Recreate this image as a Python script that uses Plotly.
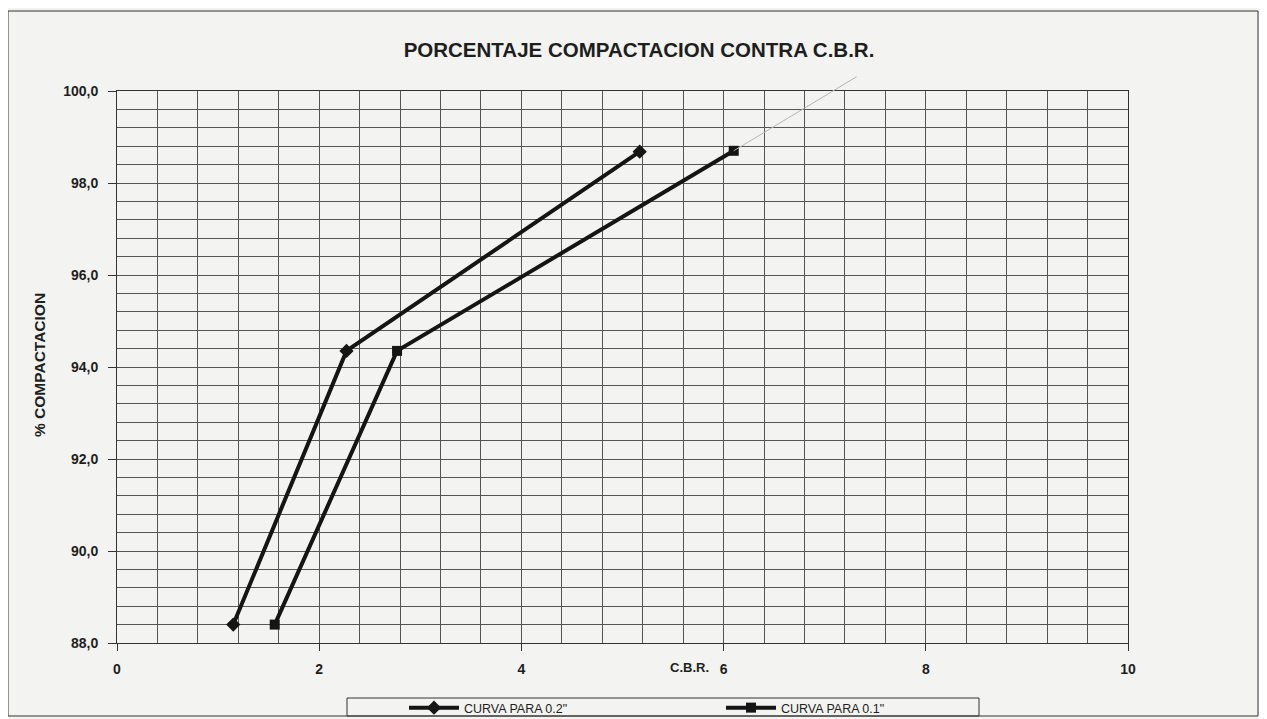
import plotly.graph_objects as go

# Data
cbr_02 = [1.15, 2.27, 5.17]
comp_02 = [88.4, 94.35, 98.68]
cbr_01 = [1.56, 2.77, 6.10]
comp_01 = [88.4, 94.35, 98.7]
name_02 = 'CURVA PARA 0.2"'
name_01 = 'CURVA PARA 0.1"'
# faint pencil stroke leaving the last point of the 0.1" curve
stroke_x = [6.10, 7.33]
stroke_y = [98.7, 100.33]

x_ticks = [0, 2, 4, 6, 8, 10]
y_ticks = [88, 90, 92, 94, 96, 98, 100]

BG = "#f3f3f1"
GRID = "#555555"
INK = "#1e1e1e"
FONT = "Liberation Sans, Arial, sans-serif"

# the page places the figure 8px in from the top-left corner of the window
OFF = 8
WIN_W, WIN_H = 1267, 719
W, H = WIN_W - OFF, WIN_H - OFF
# plot area in window pixels: x 117..1128, y 91..643
ML, MR, MT, MB = 117 - OFF, WIN_W - 1128, 91 - OFF, WIN_H - 643
PW, PH = W - ML - MR, H - MT - MB


def px(xpix):
    return (xpix - OFF - ML) / PW


def py(ypix):
    return (H - MB - (ypix - OFF)) / PH


fig = go.Figure()
fig.add_trace(go.Scatter(
    x=cbr_02, y=comp_02, name=name_02, mode="lines+markers",
    line=dict(color="#151515", width=4),
    marker=dict(symbol="diamond", size=11, color="#151515"),
    cliponaxis=False,
))
fig.add_trace(go.Scatter(
    x=cbr_01, y=comp_01, name=name_01, mode="lines+markers",
    line=dict(color="#151515", width=4),
    marker=dict(symbol="square", size=10, color="#151515"),
    cliponaxis=False,
))

fig.add_annotation(
    x=stroke_x[0], y=stroke_y[0], ax=stroke_x[1], ay=stroke_y[1],
    xref="x", yref="y", axref="x", ayref="y",
    text="", showarrow=True, arrowhead=0, arrowwidth=1, arrowcolor="#b5b5b5",
    standoff=0, startstandoff=0,
)

fig.update_layout(
    width=W, height=H,
    paper_bgcolor=BG, plot_bgcolor=BG,
    margin=dict(l=ML, r=MR, t=MT, b=MB, autoexpand=False),
    separators=",.",
    font=dict(family=FONT, color=INK),
    title=dict(text="PORCENTAJE COMPACTACION CONTRA C.B.R.",
               x=(639 - OFF) / W, xref="container", xanchor="center",
               y=1 - (50 - OFF) / H, yanchor="middle",
               font=dict(family=FONT, size=20.5, weight="bold", color=INK)),
    showlegend=True,
    legend=dict(orientation="h", x=px(404), xanchor="left", y=py(693), yanchor="top",
                bgcolor="rgba(0,0,0,0)", borderwidth=0,
                itemwidth=50, entrywidth=252, entrywidthmode="pixels",
                font=dict(family=FONT, size=12.5, color=INK)),
)

fig.update_xaxes(
    range=[0, 10], tickvals=x_ticks, tickformat="d",
    showgrid=True, gridcolor=GRID, gridwidth=1,
    minor=dict(dtick=0.4, tick0=0, showgrid=True, gridcolor=GRID, gridwidth=1),
    showline=True, linecolor="#333333", linewidth=1, mirror=True,
    ticks="outside", ticklen=7, tickcolor="#333333",
    tickfont=dict(family=FONT, size=14, weight="bold", color=INK),
    ticklabelstandoff=6,
    zeroline=False,
)
fig.update_yaxes(
    range=[88, 100], tickvals=y_ticks, tickformat=".1f",
    showgrid=True, gridcolor=GRID, gridwidth=1,
    minor=dict(dtick=0.4, tick0=88, showgrid=True, gridcolor=GRID, gridwidth=1),
    showline=True, linecolor="#333333", linewidth=1, mirror=True,
    ticks="outside", ticklen=8, tickcolor="#333333",
    tickfont=dict(family=FONT, size=14, weight="bold", color=INK),
    ticklabelstandoff=7,
    zeroline=False,
)

# axis titles
fig.add_annotation(text="C.B.R.", x=px(711), xref="paper", y=py(667), yref="paper",
                   xanchor="right", yanchor="middle", showarrow=False,
                   font=dict(family=FONT, size=13, weight="bold", color=INK))
fig.add_annotation(text="% COMPACTACION", textangle=-90, x=px(39), xref="paper",
                   y=py(365), yref="paper", xanchor="center", yanchor="middle",
                   showarrow=False,
                   font=dict(family=FONT, size=15.5, weight="bold", color=INK))

# outer frame of the chart area and the legend box
fig.add_shape(type="rect", xref="paper", yref="paper",
              x0=px(8), x1=px(1258), y0=py(716), y1=py(11),
              line=dict(color="#333333", width=1), layer="below")
fig.add_shape(type="rect", xref="paper", yref="paper",
              x0=px(347), x1=px(979), y0=py(716), y1=py(698),
              line=dict(color="#333333", width=1), layer="below")

fig.write_html("out.html")
